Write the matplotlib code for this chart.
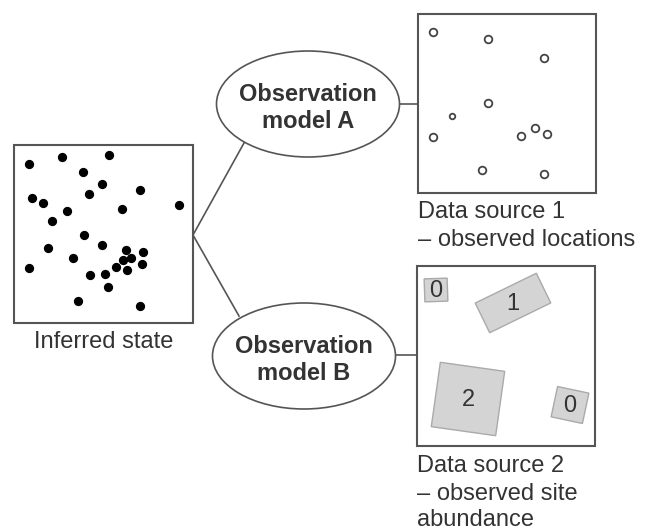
import numpy as np
import matplotlib.pyplot as plt
from matplotlib.patches import Rectangle, Ellipse, Polygon

plt.rcParams['font.family'] = ['Liberation Sans', 'DejaVu Sans']

# inferred state: individual locations (pixel-like coords, y down)
state_x = [29, 62, 109, 83, 102, 89, 140, 32, 43, 67, 122, 179, 52, 84, 48,
           102, 126, 143, 73, 123, 131, 29, 116, 127, 142, 90, 105, 108, 78, 140]
state_y = [164, 157, 155, 172, 184, 194, 190, 198, 203, 211, 209, 205, 221, 235, 248,
           245, 250, 252, 258, 260, 258, 268, 267, 270, 264, 275, 274, 287, 301, 306]

# data source 1: observed locations
obs_x = [433, 488, 544, 488, 452, 433, 521, 535, 547, 482, 544]
obs_y = [32, 39, 58, 103, 116, 137, 136, 128, 134, 170, 174]
obs_size = [5.5, 5.5, 5.5, 5.5, 4, 5.5, 5.5, 5.5, 5.5, 5.5, 5.5]

# data source 2: sites (centre x, centre y, width, height, angle) and counts
site_cx = [436, 513, 468, 570]
site_cy = [290, 303, 399, 405]
site_w = [23, 68, 65, 32]
site_h = [23, 33, 65, 31]
site_angle = [-2, -26, 8, 12]
site_count = ['0', '1', '2', '0']

line_col = '#555555'
text_col = '#333333'

fig = plt.figure(figsize=(6.53, 5.3), dpi=100)
ax = fig.add_axes([0, 0, 1, 1])
ax.set_xlim(0, 653)
ax.set_ylim(530, 0)
ax.axis('off')

# boxes
for (x0, y0, x1, y1) in [(14, 145, 193, 323), (418, 14, 596, 193), (417, 266, 595, 446)]:
    ax.add_patch(Rectangle((x0, y0), x1 - x0, y1 - y0, fill=False,
                           edgecolor=line_col, lw=1.5))

# connectors
ax.plot([193, 244], [235, 143], color=line_col, lw=1.2)
ax.plot([193, 239], [235, 316], color=line_col, lw=1.2)
ax.plot([400, 418], [104, 104], color=line_col, lw=1.2)
ax.plot([395, 417], [355, 355], color=line_col, lw=1.2)

# ellipses
for cx, cy, lab in [(308, 104, 'A'), (304, 356, 'B')]:
    ax.add_patch(Ellipse((cx, cy), 183, 106, facecolor='white',
                         edgecolor=line_col, lw=1.2, zorder=3))
    ax.text(cx, cy - 3, 'Observation', ha='center', va='baseline',
            fontsize=17, fontweight='bold', color=text_col, zorder=4)
    ax.text(cx, cy + 24, 'model ' + lab, ha='center', va='baseline',
            fontsize=17, fontweight='bold', color=text_col, zorder=4)

# inferred state points
ax.scatter(state_x, state_y, s=32, color='black', zorder=5)

# observed locations
for x, y, d in zip(obs_x, obs_y, obs_size):
    ax.plot(x, y, 'o', ms=d, mfc='white', mec='#444444', mew=1.3, zorder=5)

# sites
for cx, cy, w, h, a, c in zip(site_cx, site_cy, site_w, site_h, site_angle, site_count):
    t = np.deg2rad(a)
    u = np.array([np.cos(t), np.sin(t)])
    v = np.array([-np.sin(t), np.cos(t)])
    c0 = np.array([cx, cy])
    pts = [c0 - u * w / 2 - v * h / 2, c0 + u * w / 2 - v * h / 2,
           c0 + u * w / 2 + v * h / 2, c0 - u * w / 2 + v * h / 2]
    ax.add_patch(Polygon(pts, closed=True, facecolor='#d4d4d4',
                         edgecolor='#aaaaaa', lw=1.0, zorder=4))
    ax.text(cx, cy + 1, c, ha='center', va='center', fontsize=17,
            color=text_col, zorder=5)

# labels
ax.text(104, 348, 'Inferred state', ha='center', va='baseline', fontsize=17, color=text_col)
ax.text(418, 218, 'Data source 1', ha='left', va='baseline', fontsize=17, color=text_col)
ax.text(418, 246, '\u2013 observed locations', ha='left', va='baseline', fontsize=17, color=text_col)
ax.text(417, 472, 'Data source 2', ha='left', va='baseline', fontsize=17, color=text_col)
ax.text(417, 500, '\u2013 observed site', ha='left', va='baseline', fontsize=17, color=text_col)
ax.text(417, 526, 'abundance', ha='left', va='baseline', fontsize=17, color=text_col)

fig.savefig('out.png', dpi=100)
